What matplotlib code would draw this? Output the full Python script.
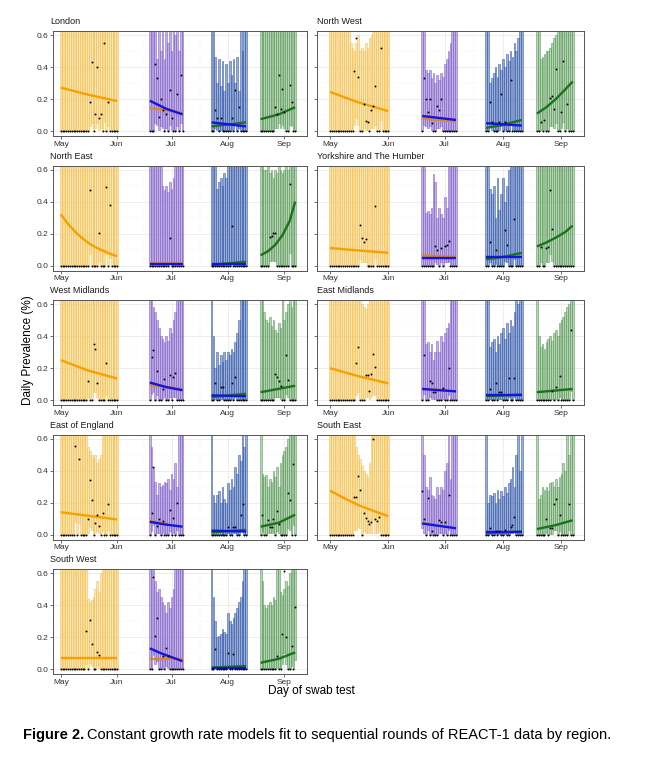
"""
REACT-1 Figure 2: constant growth rate models fit to sequential rounds,
one panel per region. Values read off the published figure.
Outputs: out.png
"""
import matplotlib
matplotlib.use("Agg")
import matplotlib.pyplot as plt
from matplotlib.colors import to_rgba

plt.rcParams["font.family"] = ["Liberation Sans", "DejaVu Sans"]

# ---------------- data (days since 1 May 2020) ----------------
MONTH_DAYS = [0, 31, 61, 92, 123]
MONTH_LABELS = ["May", "Jun", "Jul", "Aug", "Sep"]
ROUND_DAYS = [list(range(0, 32)), list(range(49, 68)),
              list(range(83, 103)), list(range(110, 130))]

# upper 95% CI per day for each round (values >0.625 run off the panel)
london_upper = [
    [0.7, 0.7, 0.7, 0.7, 0.7, 0.7, 0.7, 0.7, 0.7, 0.7, 0.7, 0.7, 0.7, 0.7, 0.7, 0.7,
     0.7, 0.7, 0.7, 0.7, 0.7, 0.7, 0.7, 0.7, 0.7, 0.7, 0.7, 0.7, 0.7, 0.7, 0.7, 0.7],
    [0.7, 0.7, 0.7, 0.7, 0.45, 0.7, 0.5, 0.7, 0.45, 0.7, 0.55, 0.7, 0.5, 0.7, 0.6, 0.7, 0.5, 0.7, 0.7],
    [0.7, 0.7, 0.46, 0.3, 0.45, 0.28, 0.44, 0.25, 0.42, 0.3, 0.44, 0.35, 0.45, 0.3, 0.46, 0.25, 0.7, 0.5, 0.7, 0.7],
    [0.7, 0.7, 0.7, 0.7, 0.7, 0.7, 0.7, 0.7, 0.7, 0.7, 0.7, 0.7, 0.7, 0.7, 0.7, 0.7, 0.7, 0.7, 0.7, 0.7],
]
# positive days: (day, prevalence %, lower CI)
london_pos = [(16, 0.18, 0.03), (17, 0.43, 0.05), (19, 0.11, 0.02), (20, 0.40, 0.05), (21, 0.085, 0.01),
              (22, 0.11, 0.02), (24, 0.55, 0.06), (26, 0.18, 0.03),
              (52, 0.42, 0.05), (53, 0.33, 0.04), (54, 0.09, 0.01), (55, 0.20, 0.03), (56, 0.13, 0.02),
              (58, 0.11, 0.02), (60, 0.26, 0.04), (61, 0.08, 0.01), (64, 0.235, 0.03), (66, 0.35, 0.05),
              (85, 0.135, 0.02), (86, 0.085, 0.01), (88, 0.085, 0.01), (94, 0.08, 0.01), (96, 0.26, 0.04),
              (98, 0.15, 0.02),
              (118, 0.15, 0.02), (119, 0.11, 0.02), (120, 0.35, 0.05), (121, 0.14, 0.02), (122, 0.265, 0.04),
              (123, 0.12, 0.02), (126, 0.29, 0.04), (127, 0.185, 0.03)]
london_fit = [[(0, 0.272), (15, 0.228), (31, 0.188)],
              [(49, 0.19), (58, 0.14), (67, 0.105)],
              [(83, 0.055), (102, 0.03)],
              [(110, 0.075), (120, 0.105), (129, 0.15)]]
london_fit2 = [None, [(49, 0.145), (67, 0.115)], [(83, 0.03), (102, 0.055)], None]

nw_upper = [
    [0.7, 0.7, 0.7, 0.7, 0.7, 0.7, 0.7, 0.7, 0.7, 0.7, 0.7, 0.55, 0.52, 0.5, 0.55, 0.6,
     0.5, 0.52, 0.5, 0.55, 0.52, 0.58, 0.6, 0.7, 0.7, 0.7, 0.7, 0.7, 0.7, 0.7, 0.7, 0.7],
    [0.7, 0.7, 0.38, 0.36, 0.38, 0.33, 0.36, 0.3, 0.35, 0.32, 0.36, 0.34, 0.42, 0.45, 0.5, 0.55, 0.7, 0.7, 0.7],
    [0.7, 0.7, 0.3, 0.33, 0.36, 0.4, 0.34, 0.42, 0.38, 0.45, 0.4, 0.48, 0.44, 0.5, 0.46, 0.55, 0.5, 0.58, 0.7, 0.7],
    [0.7, 0.7, 0.45, 0.46, 0.48, 0.5, 0.5, 0.52, 0.55, 0.58, 0.6, 0.7, 0.65, 0.7, 0.7, 0.7, 0.7, 0.7, 0.7, 0.7],
]
nw_pos = [(13, 0.375, 0.04), (14, 0.58, 0.08), (15, 0.34, 0.04), (18, 0.17, 0.02), (19, 0.065, 0.01),
          (20, 0.06, 0.01), (22, 0.13, 0.02), (23, 0.16, 0.02), (24, 0.28, 0.04), (27, 0.52, 0.07),
          (50, 0.33, 0.04), (51, 0.2, 0.03), (52, 0.12, 0.02), (53, 0.2, 0.03), (54, 0.05, 0.01),
          (57, 0.16, 0.02), (58, 0.13, 0.02), (59, 0.2, 0.03),
          (85, 0.18, 0.03), (86, 0.06, 0.01), (90, 0.06, 0.01), (91, 0.23, 0.03), (93, 0.06, 0.01),
          (96, 0.32, 0.05),
          (112, 0.06, 0.01), (114, 0.07, 0.01), (117, 0.21, 0.03), (118, 0.22, 0.03), (119, 0.14, 0.02),
          (120, 0.39, 0.05), (123, 0.12, 0.02), (124, 0.44, 0.06), (126, 0.17, 0.02)]
nw_fit = [[(0, 0.245), (15, 0.18), (31, 0.125)],
          [(49, 0.095), (67, 0.07)],
          [(83, 0.05), (102, 0.035)],
          [(110, 0.11), (115, 0.15), (120, 0.2), (125, 0.26), (129, 0.31)]]
nw_fit2 = [None, [(49, 0.08), (67, 0.06)], [(83, 0.02), (92, 0.04), (102, 0.07)], None]

ne_upper = [
    [0.7, 0.7, 0.7, 0.7, 0.7, 0.7, 0.7, 0.7, 0.7, 0.7, 0.7, 0.7, 0.7, 0.7, 0.7, 0.7,
     0.7, 0.7, 0.7, 0.7, 0.7, 0.7, 0.7, 0.7, 0.7, 0.7, 0.7, 0.7, 0.7, 0.7, 0.7, 0.7],
    [0.7, 0.7, 0.7, 0.7, 0.7, 0.7, 0.7, 0.5, 0.47, 0.5, 0.46, 0.52, 0.48, 0.55, 0.7, 0.7, 0.7, 0.7, 0.7],
    [0.7, 0.7, 0.7, 0.48, 0.52, 0.55, 0.5, 0.58, 0.55, 0.7, 0.7, 0.7, 0.7, 0.7, 0.7, 0.7, 0.7, 0.7, 0.7, 0.7],
    [0.7, 0.7, 0.6, 0.6, 0.62, 0.58, 0.6, 0.55, 0.6, 0.58, 0.62, 0.6, 0.58, 0.6, 0.62, 0.6, 0.7, 0.7, 0.7, 0.7],
]
ne_pos = [(16, 0.475, 0.07), (21, 0.205, 0.03), (25, 0.49, 0.07), (27, 0.38, 0.05),
          (60, 0.175, 0.02),
          (94, 0.245, 0.03),
          (115, 0.18, 0.03), (116, 0.185, 0.03), (117, 0.205, 0.03), (118, 0.205, 0.03), (126, 0.51, 0.08)]
ne_fit = [[(0, 0.32), (4, 0.26), (8, 0.21), (12, 0.17), (16, 0.135), (20, 0.11), (24, 0.09), (28, 0.07), (31, 0.06)],
          [(49, 0.01), (67, 0.01)],
          [(83, 0.012), (102, 0.012)],
          [(110, 0.065), (114, 0.09), (118, 0.13), (122, 0.19), (126, 0.28), (129, 0.4)]]
ne_fit2 = [None, [(49, 0.015), (67, 0.012)], [(83, 0.005), (102, 0.025)], None]

yh_upper = [
    [0.7, 0.7, 0.7, 0.7, 0.7, 0.7, 0.7, 0.7, 0.7, 0.7, 0.7, 0.7, 0.7, 0.7, 0.7, 0.7,
     0.7, 0.7, 0.7, 0.7, 0.7, 0.7, 0.7, 0.7, 0.7, 0.7, 0.7, 0.7, 0.7, 0.7, 0.7, 0.7],
    [0.7, 0.7, 0.33, 0.34, 0.32, 0.36, 0.57, 0.52, 0.3, 0.36, 0.32, 0.3, 0.43, 0.36, 0.7, 0.7, 0.7, 0.7, 0.7],
    [0.7, 0.7, 0.48, 0.45, 0.5, 0.3, 0.55, 0.35, 0.45, 0.55, 0.4, 0.5, 0.6, 0.7, 0.65, 0.7, 0.7, 0.7, 0.7, 0.7],
    [0.7, 0.7, 0.7, 0.7, 0.7, 0.7, 0.7, 0.7, 0.7, 0.7, 0.7, 0.7, 0.7, 0.7, 0.7, 0.7, 0.7, 0.7, 0.7, 0.7],
]
yh_pos = [(16, 0.255, 0.04), (17, 0.17, 0.02), (18, 0.145, 0.02), (19, 0.165, 0.02), (24, 0.37, 0.05),
          (56, 0.12, 0.02), (57, 0.1, 0.01), (59, 0.11, 0.02), (61, 0.125, 0.02), (62, 0.13, 0.02),
          (63, 0.155, 0.02),
          (85, 0.15, 0.02), (88, 0.1, 0.01), (93, 0.225, 0.03), (94, 0.13, 0.02), (98, 0.29, 0.04),
          (112, 0.115, 0.02), (115, 0.11, 0.02), (116, 0.115, 0.02), (117, 0.475, 0.07), (118, 0.23, 0.03)]
yh_fit = [[(0, 0.11), (31, 0.08)],
          [(49, 0.05), (67, 0.05)],
          [(83, 0.055), (102, 0.055)],
          [(110, 0.12), (115, 0.145), (120, 0.175), (125, 0.21), (129, 0.25)]]
yh_fit2 = [None, [(49, 0.065), (67, 0.055)], [(83, 0.04), (92, 0.055), (102, 0.08)], None]

wm_upper = [
    [0.7, 0.7, 0.7, 0.7, 0.7, 0.7, 0.7, 0.7, 0.7, 0.7, 0.7, 0.7, 0.7, 0.7, 0.7, 0.7,
     0.7, 0.7, 0.7, 0.7, 0.7, 0.7, 0.7, 0.7, 0.7, 0.7, 0.7, 0.7, 0.7, 0.7, 0.7, 0.7],
    [0.7, 0.7, 0.58, 0.55, 0.5, 0.45, 0.4, 0.38, 0.36, 0.4, 0.37, 0.45, 0.42, 0.5, 0.55, 0.7, 0.7, 0.7, 0.7],
    [0.7, 0.4, 0.2, 0.3, 0.22, 0.28, 0.24, 0.3, 0.25, 0.3, 0.28, 0.32, 0.3, 0.36, 0.42, 0.5, 0.7, 0.7, 0.7, 0.7],
    [0.7, 0.7, 0.55, 0.5, 0.48, 0.52, 0.46, 0.5, 0.44, 0.42, 0.48, 0.45, 0.7, 0.5, 0.55, 0.6, 0.7, 0.58, 0.7, 0.7],
]
wm_pos = [(15, 0.12, 0.02), (18, 0.35, 0.05), (19, 0.32, 0.05), (20, 0.105, 0.02), (25, 0.23, 0.03),
          (50, 0.27, 0.04), (51, 0.31, 0.05), (53, 0.18, 0.03), (56, 0.07, 0.01), (57, 0.13, 0.02),
          (60, 0.16, 0.02), (62, 0.145, 0.02), (63, 0.17, 0.02),
          (85, 0.105, 0.01), (88, 0.08, 0.01), (89, 0.08, 0.01), (94, 0.105, 0.01), (96, 0.145, 0.02),
          (118, 0.165, 0.02), (119, 0.145, 0.02), (120, 0.12, 0.02), (121, 0.09, 0.01), (124, 0.28, 0.04),
          (125, 0.125, 0.02)]
wm_fit = [[(0, 0.25), (15, 0.185), (31, 0.135)],
          [(49, 0.11), (58, 0.082), (67, 0.062)],
          [(83, 0.03), (102, 0.025)],
          [(110, 0.05), (129, 0.09)]]
wm_fit2 = [None, [(49, 0.095), (67, 0.07)], [(83, 0.02), (102, 0.04)], None]

em_upper = [
    [0.7, 0.7, 0.7, 0.7, 0.7, 0.7, 0.7, 0.7, 0.7, 0.7, 0.7, 0.7, 0.7, 0.7, 0.7, 0.7,
     0.7, 0.6, 0.58, 0.57, 0.6, 0.62, 0.7, 0.7, 0.7, 0.7, 0.7, 0.7, 0.7, 0.7, 0.7, 0.7],
    [0.7, 0.7, 0.35, 0.36, 0.3, 0.35, 0.25, 0.3, 0.37, 0.3, 0.4, 0.36, 0.42, 0.45, 0.48, 0.7, 0.7, 0.7, 0.7],
    [0.7, 0.7, 0.33, 0.36, 0.38, 0.3, 0.4, 0.35, 0.42, 0.45, 0.38, 0.48, 0.42, 0.5, 0.46, 0.55, 0.7, 0.6, 0.7, 0.7],
    [0.7, 0.4, 0.33, 0.35, 0.32, 0.36, 0.38, 0.4, 0.37, 0.42, 0.44, 0.4, 0.48, 0.5, 0.52, 0.55, 0.58, 0.6, 0.7, 0.7],
]
em_pos = [(14, 0.235, 0.03), (15, 0.33, 0.05), (19, 0.16, 0.02), (20, 0.16, 0.02), (21, 0.06, 0.01),
          (22, 0.165, 0.02), (23, 0.29, 0.04), (24, 0.21, 0.03),
          (50, 0.28, 0.04), (53, 0.12, 0.02), (54, 0.105, 0.01), (55, 0.05, 0.01), (56, 0.05, 0.01),
          (60, 0.075, 0.01), (63, 0.2, 0.03),
          (85, 0.07, 0.01), (88, 0.11, 0.01), (90, 0.05, 0.01), (91, 0.05, 0.01), (95, 0.14, 0.02),
          (98, 0.14, 0.02),
          (118, 0.06, 0.01), (120, 0.085, 0.01), (122, 0.15, 0.02), (128, 0.44, 0.06)]
em_fit = [[(0, 0.2), (15, 0.15), (31, 0.105)],
          [(49, 0.07), (67, 0.055)],
          [(83, 0.035), (102, 0.035)],
          [(110, 0.05), (129, 0.07)]]
em_fit2 = [None, [(49, 0.072), (60, 0.062)], [(83, 0.025), (102, 0.035)], None]

ee_upper = [
    [0.7, 0.7, 0.7, 0.7, 0.7, 0.7, 0.7, 0.7, 0.7, 0.7, 0.7, 0.7, 0.7, 0.7, 0.7, 0.55,
     0.52, 0.5, 0.48, 0.5, 0.45, 0.47, 0.5, 0.7, 0.7, 0.7, 0.7, 0.7, 0.7, 0.7, 0.7, 0.7],
    [0.7, 0.55, 0.42, 0.33, 0.25, 0.32, 0.3, 0.31, 0.33, 0.32, 0.35, 0.28, 0.38, 0.35, 0.45, 0.3, 0.7, 0.7, 0.7],
    [0.7, 0.25, 0.2, 0.25, 0.27, 0.2, 0.3, 0.22, 0.2, 0.32, 0.28, 0.35, 0.3, 0.42, 0.38, 0.5, 0.46, 0.7, 0.55, 0.7],
    [0.7, 0.38, 0.36, 0.37, 0.3, 0.35, 0.33, 0.4, 0.36, 0.42, 0.3, 0.45, 0.5, 0.52, 0.55, 0.6, 0.7, 0.7, 0.7, 0.7],
]
ee_pos = [(8, 0.555, 0.08), (10, 0.475, 0.07), (15, 0.095, 0.01), (16, 0.34, 0.05), (17, 0.215, 0.03),
          (19, 0.07, 0.01), (20, 0.12, 0.02), (21, 0.055, 0.01), (23, 0.135, 0.02), (26, 0.19, 0.03),
          (50, 0.135, 0.02), (51, 0.42, 0.06), (53, 0.055, 0.01), (54, 0.1, 0.01), (56, 0.085, 0.01),
          (60, 0.155, 0.02), (62, 0.105, 0.01), (64, 0.2, 0.03),
          (92, 0.05, 0.01), (95, 0.05, 0.01), (96, 0.05, 0.01), (99, 0.125, 0.02), (100, 0.19, 0.03),
          (111, 0.12, 0.02), (114, 0.09, 0.01), (115, 0.05, 0.01), (116, 0.05, 0.01), (117, 0.1, 0.01),
          (119, 0.15, 0.02), (120, 0.065, 0.01), (125, 0.26, 0.04), (126, 0.215, 0.03), (128, 0.44, 0.06)]
ee_fit = [[(0, 0.14), (31, 0.095)],
          [(49, 0.08), (58, 0.063), (67, 0.05)],
          [(83, 0.025), (102, 0.02)],
          [(110, 0.05), (120, 0.075), (129, 0.125)]]
ee_fit2 = [None, [(49, 0.085), (58, 0.07)], [(83, 0.015), (102, 0.03)], None]

se_upper = [
    [0.7, 0.7, 0.7, 0.7, 0.7, 0.7, 0.7, 0.7, 0.7, 0.7, 0.7, 0.7, 0.7, 0.7, 0.55, 0.5,
     0.47, 0.43, 0.4, 0.38, 0.36, 0.45, 0.7, 0.7, 0.7, 0.7, 0.7, 0.7, 0.7, 0.7, 0.7, 0.7],
    [0.7, 0.5, 0.3, 0.28, 0.36, 0.25, 0.24, 0.22, 0.3, 0.25, 0.3, 0.28, 0.4, 0.45, 0.7, 0.35, 0.7, 0.7, 0.7],
    [0.7, 0.2, 0.25, 0.24, 0.26, 0.2, 0.28, 0.22, 0.27, 0.24, 0.3, 0.26, 0.32, 0.35, 0.42, 0.3, 0.5, 0.7, 0.4, 0.7],
    [0.7, 0.22, 0.25, 0.3, 0.28, 0.3, 0.27, 0.32, 0.33, 0.3, 0.35, 0.3, 0.36, 0.38, 0.45, 0.4, 0.7, 0.5, 0.7, 0.7],
]
se_pos = [(13, 0.235, 0.03), (14, 0.235, 0.03), (15, 0.365, 0.05), (16, 0.28, 0.04), (18, 0.135, 0.02),
          (19, 0.105, 0.01), (20, 0.085, 0.01), (21, 0.065, 0.01), (22, 0.08, 0.01), (23, 0.595, 0.09),
          (24, 0.1, 0.01), (25, 0.085, 0.01), (26, 0.11, 0.02),
          (49, 0.27, 0.04), (50, 0.1, 0.01), (52, 0.23, 0.03), (54, 0.025, 0.005), (58, 0.09, 0.01),
          (59, 0.08, 0.01), (61, 0.08, 0.01), (63, 0.245, 0.03),
          (85, 0.04, 0.005), (88, 0.025, 0.003), (90, 0.025, 0.003), (93, 0.03, 0.004), (96, 0.05, 0.01),
          (97, 0.06, 0.01), (98, 0.11, 0.02),
          (115, 0.1, 0.01), (117, 0.04, 0.005), (118, 0.04, 0.005), (119, 0.19, 0.03), (120, 0.22, 0.03),
          (122, 0.125, 0.02), (127, 0.19, 0.03)]
se_fit = [[(0, 0.275), (8, 0.225), (16, 0.18), (24, 0.145), (31, 0.115)],
          [(49, 0.07), (67, 0.04)],
          [(83, 0.015), (102, 0.015)],
          [(110, 0.035), (120, 0.06), (129, 0.09)]]
se_fit2 = [None, [(49, 0.072), (56, 0.06)], [(83, 0.01), (102, 0.02)], None]

sw_upper = [
    [0.7, 0.7, 0.7, 0.7, 0.7, 0.7, 0.7, 0.7, 0.7, 0.7, 0.7, 0.7, 0.7, 0.7, 0.7, 0.44,
     0.42, 0.43, 0.45, 0.5, 0.55, 0.48, 0.6, 0.7, 0.7, 0.7, 0.7, 0.7, 0.7, 0.7, 0.7, 0.7],
    [0.7, 0.7, 0.7, 0.55, 0.48, 0.5, 0.45, 0.42, 0.4, 0.35, 0.42, 0.38, 0.45, 0.5, 0.7, 0.7, 0.7, 0.7, 0.7],
    [0.7, 0.45, 0.3, 0.2, 0.21, 0.22, 0.25, 0.23, 0.22, 0.35, 0.3, 0.28, 0.32, 0.35, 0.38, 0.42, 0.45, 0.55, 0.7, 0.7],
    [0.7, 0.55, 0.4, 0.38, 0.4, 0.42, 0.4, 0.45, 0.43, 0.7, 0.65, 0.48, 0.46, 0.5, 0.55, 0.52, 0.6, 0.7, 0.7, 0.7],
]
sw_pos = [(14, 0.24, 0.03), (16, 0.305, 0.04), (17, 0.16, 0.02), (20, 0.11, 0.02), (21, 0.09, 0.01),
          (51, 0.575, 0.09), (52, 0.21, 0.03), (53, 0.32, 0.05), (56, 0.085, 0.01), (58, 0.13, 0.02),
          (59, 0.08, 0.01),
          (85, 0.125, 0.02), (92, 0.1, 0.01), (95, 0.095, 0.01),
          (119, 0.085, 0.01), (122, 0.22, 0.03), (123, 0.615, 0.1), (124, 0.2, 0.03), (127, 0.145, 0.02),
          (129, 0.39, 0.06)]
sw_fit = [[(0, 0.07), (31, 0.07)],
          [(49, 0.13), (55, 0.1), (61, 0.075), (67, 0.05)],
          [(83, 0.005), (102, 0.005)],
          [(110, 0.04), (120, 0.065), (129, 0.105)]]
sw_fit2 = [None, [(49, 0.065), (67, 0.065)], [(83, 0.01), (102, 0.02)], None]

REGIONS = ["London", "North West", "North East", "Yorkshire and The Humber",
           "West Midlands", "East Midlands", "East of England", "South East", "South West"]
UPPERS = [london_upper, nw_upper, ne_upper, yh_upper, wm_upper, em_upper, ee_upper, se_upper, sw_upper]
POSITIVES = [london_pos, nw_pos, ne_pos, yh_pos, wm_pos, em_pos, ee_pos, se_pos, sw_pos]
FITS = [london_fit, nw_fit, ne_fit, yh_fit, wm_fit, em_fit, ee_fit, se_fit, sw_fit]
FITS2 = [london_fit2, nw_fit2, ne_fit2, yh_fit2, wm_fit2, em_fit2, ee_fit2, se_fit2, sw_fit2]

# ---------------- style ----------------
BAR_COLORS = ["#F7C14E", "#8566CC", "#3A5FAE", "#5E9E5E"]
BAR_ALPHA = [0.38, 0.5, 0.5, 0.45]
FIT_COLORS = ["#F5A100", "#1414E0", "#1414E0", "#1C721C"]
FIT2_COLORS = [None, "#D8862F", "#1C721C", None]

W, H = 661, 761
COL_X = [(53, 307), (317, 584)]
ROW_TOP = [31, 165.5, 300, 434.5, 569]
PANEL_H = 105
XLIMS = [(-4.3, 135.5), (-6.9, 135.0)]

fig = plt.figure(figsize=(W / 100, H / 100), dpi=100)

for i, name in enumerate(REGIONS):
    row, col = divmod(i, 2)
    x0, x1 = COL_X[col]
    top = ROW_TOP[row]
    ax = fig.add_axes([x0 / W, 1 - (top + PANEL_H) / H, (x1 - x0) / W, PANEL_H / H])

    pos = {d: (v, lo) for d, v, lo in POSITIVES[i]}
    for r, days in enumerate(ROUND_DAYS):
        ups = UPPERS[i][r]
        los = [pos[d][1] if d in pos else 0.0 for d in days]
        c = BAR_COLORS[r]
        ax.bar(days, [u - l for u, l in zip(ups, los)], bottom=los, width=0.92,
               color=to_rgba(c, BAR_ALPHA[r]), edgecolor=to_rgba(c, 0.85), linewidth=0.45, zorder=2)
        f2 = FITS2[i][r]
        if f2 is not None:
            ax.plot([p[0] for p in f2], [p[1] for p in f2], color=FIT2_COLORS[r], lw=1.7,
                    solid_capstyle="butt", zorder=3)
        f1 = FITS[i][r]
        ax.plot([p[0] for p in f1], [p[1] for p in f1], color=FIT_COLORS[r], lw=1.7,
                solid_capstyle="butt", zorder=3)
        vals = [pos[d][0] if d in pos else 0.0 for d in days]
        ax.plot(days, vals, "o", color="black", ms=1.4, mew=0, zorder=4)

    ax.set_xlim(*XLIMS[col])
    ax.set_ylim(-0.03, 0.625)
    ax.set_xticks(MONTH_DAYS)
    ax.set_xticklabels(MONTH_LABELS)
    ax.set_xticks([15.5, 46, 76.5, 107.5], minor=True)
    ax.set_yticks([0.0, 0.2, 0.4, 0.6])
    ax.set_yticks([0.1, 0.3, 0.5], minor=True)
    if col == 0:
        ax.set_yticklabels(["0.0", "0.2", "0.4", "0.6"])
    else:
        ax.set_yticklabels([])
    ax.grid(which="major", color="#EBEBEB", lw=0.6)
    ax.grid(which="minor", color="#F4F4F4", lw=0.35)
    ax.set_axisbelow(True)
    ax.tick_params(which="major", length=2, width=0.5, color="#333333",
                   labelsize=6, labelcolor="#333333", pad=1.5)
    ax.tick_params(which="minor", length=0)
    for s in ax.spines.values():
        s.set_color("#555555")
        s.set_linewidth(0.7)
    ax.text(-0.012 if col == 0 else 0.0, 1.045, name, transform=ax.transAxes,
            ha="left", va="bottom", fontsize=6.5, color="#1A1A1A")

fig.text(311 / W, 1 - 691 / H, "Day of swab test", ha="center", va="center", fontsize=8.5)
fig.text(28 / W, 1 - 350 / H, "Daily Prevalence (%)", ha="center", va="center",
         rotation=90, fontsize=8.5)

# caption: bold lead-in followed by regular text
cap_y = 1 - 735 / H
t1 = fig.text(23 / W, cap_y, "Figure 2.", ha="left", va="center", fontsize=10.5, fontweight="bold")
fig.canvas.draw()
bb = t1.get_window_extent()
fig.text((bb.x1 + 3) / W, cap_y,
         "Constant growth rate models fit to sequential rounds of REACT-1 data by region.",
         ha="left", va="center", fontsize=10.5)

fig.savefig("out.png", dpi=100)
